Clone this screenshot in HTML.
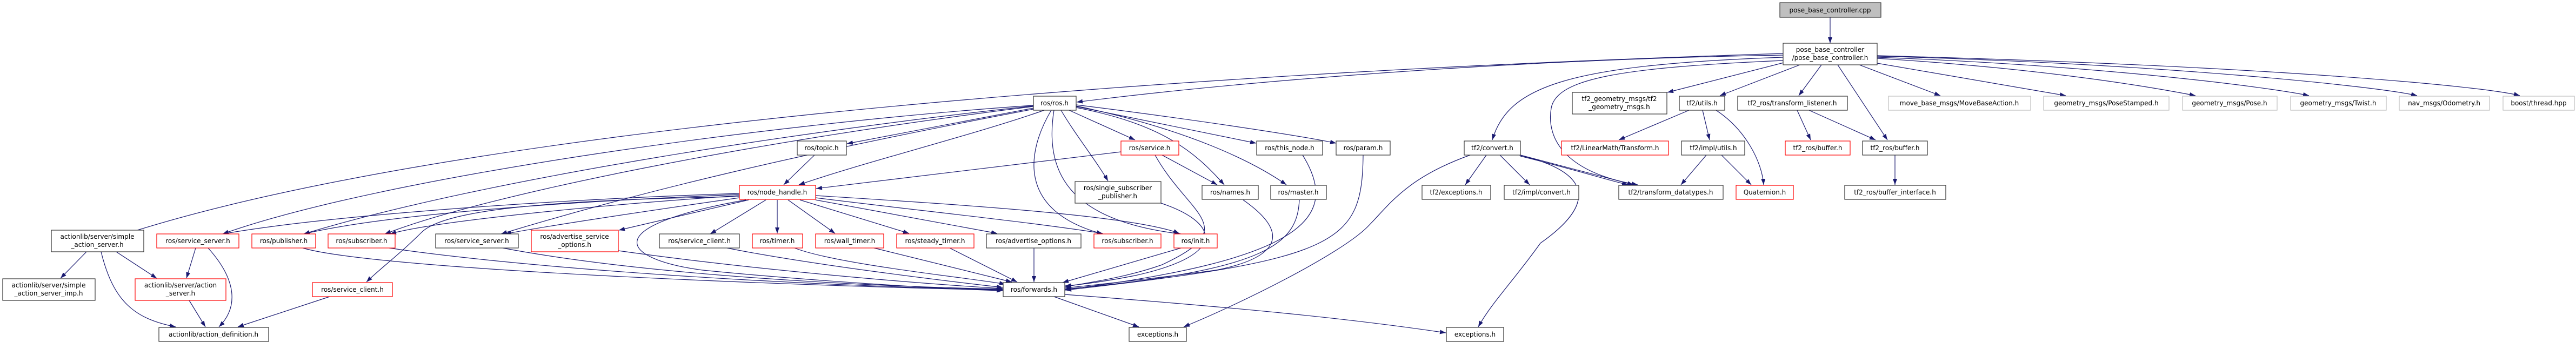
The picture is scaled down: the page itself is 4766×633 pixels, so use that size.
<!DOCTYPE html>
<html><head><meta charset="utf-8"><style>
html,body{margin:0;padding:0;background:#fff;}
svg{display:block;}
text{font-family:"DejaVu Sans","Liberation Sans",sans-serif;font-size:12px;fill:#000;text-anchor:middle;}
.b{fill:#fff;stroke:#333;stroke-width:1.2;}
.r{fill:#fff;stroke:#ff0000;stroke-width:1.2;}
.g{fill:#fff;stroke:#bfbfbf;stroke-width:1.2;}
.e path{fill:none;stroke:#191970;stroke-width:1.2;}
</style></head><body>
<svg width="4766" height="633" viewBox="0 0 4766 633" xmlns="http://www.w3.org/2000/svg">
<defs><marker id="a" markerUnits="userSpaceOnUse" markerWidth="12" markerHeight="10" refX="11" refY="4" orient="auto"><path d="M0,0 L11,4 L0,8 Z" fill="#191970"/></marker></defs>
<g class="e" marker-end="url(#a)">
<path marker-end="url(#a)" d="M3386,32 L3386,80"/>
<path marker-end="url(#a)" d="M3299,102 C2800,110 2300,150 1992,189"/>
<path marker-end="url(#a)" d="M3299,99 C2000,140 800,250 232,433"/>
<path marker-end="url(#a)" d="M3299,106 C2900,120 2790,160 2761,259"/>
<path marker-end="url(#a)" d="M3299,112 C3000,125 2880,145 2870,200 C2860,260 2900,320 3030,342"/>
<path marker-end="url(#a)" d="M3300,116 L3085,171"/>
<path marker-end="url(#a)" d="M3330,120 L3182,177"/>
<path marker-end="url(#a)" d="M3370,120 L3328,177"/>
<path marker-end="url(#a)" d="M3400,120 L3492,259"/>
<path marker-end="url(#a)" d="M3440,120 L3590,177"/>
<path marker-end="url(#a)" d="M3473,117 L3822,177"/>
<path marker-end="url(#a)" d="M3473,108 C3800,128 4000,165 4062,177"/>
<path marker-end="url(#a)" d="M3473,106 C3900,122 4200,162 4272,177"/>
<path marker-end="url(#a)" d="M3473,104 C4000,118 4400,160 4472,177"/>
<path marker-end="url(#a)" d="M3473,103 C4200,122 4600,160 4662,177"/>
<path marker-end="url(#a)" d="M1912,195 C1400,230 700,330 412,433"/>
<path marker-end="url(#a)" d="M1912,196 C1500,240 900,330 562,433"/>
<path marker-end="url(#a)" d="M1912,197 C1400,260 900,360 712,433"/>
<path marker-end="url(#a)" d="M1912,202 C1500,280 1200,350 927,433"/>
<path marker-end="url(#a)" d="M1932,204 C1800,250 1600,300 1478,342"/>
<path marker-end="url(#a)" d="M1912,200 L1567,266"/>
<path marker-end="url(#a)" d="M1978,204 L2100,259"/>
<path marker-end="url(#a)" d="M1963,204 C1990,250 2030,300 2050,335"/>
<path marker-end="url(#a)" d="M1991,199 C2150,230 2210,280 2265,342"/>
<path marker-end="url(#a)" d="M1991,197 L2324,265"/>
<path marker-end="url(#a)" d="M1991,196 C2200,240 2320,300 2380,342"/>
<path marker-end="url(#a)" d="M1991,194 C2200,220 2400,250 2472,265"/>
<path marker-end="url(#a)" d="M1945,204 C1900,280 1880,390 2040,433"/>
<path marker-end="url(#a)" d="M1950,204 C1930,330 1990,410 2185,433"/>
<path marker-end="url(#a)" d="M1507,287 L1450,342"/>
<path marker-end="url(#a)" d="M2074,281 L1510,349"/>
<path marker-end="url(#a)" d="M2150,287 L2252,342"/>
<path marker-end="url(#a)" d="M2137,287 C2200,400 2300,420 2150,490 C2080,515 2000,525 1971,531"/>
<path marker-end="url(#a)" d="M1368,366 C1200,390 1000,420 935,433"/>
<path marker-end="url(#a)" d="M1385,370 L1145,426"/>
<path marker-end="url(#a)" d="M1417,370 L1314,433"/>
<path marker-end="url(#a)" d="M1438,370 L1438,432"/>
<path marker-end="url(#a)" d="M1458,370 L1545,432"/>
<path marker-end="url(#a)" d="M1480,370 L1682,432"/>
<path marker-end="url(#a)" d="M1509,370 L1845,432"/>
<path marker-end="url(#a)" d="M1509,366 C1700,390 1900,410 2040,432"/>
<path marker-end="url(#a)" d="M1509,362 C1800,380 2100,400 2182,432"/>
<path marker-end="url(#a)" d="M1368,358 C1000,370 600,400 412,433"/>
<path marker-end="url(#a)" d="M1368,360 C1000,375 700,400 562,433"/>
<path marker-end="url(#a)" d="M1368,362 C1100,380 800,410 722,433"/>
<path marker-end="url(#a)" d="M1368,364 C1000,370 820,390 780,430 C740,470 700,500 678,522"/>
<path marker-end="url(#a)" d="M1380,370 C1100,420 1150,480 1300,500 C1500,520 1750,535 1855,538"/>
<path marker-end="url(#a)" d="M560,459 C700,500 1500,530 1855,537"/>
<path marker-end="url(#a)" d="M720,459 C1000,500 1500,530 1855,536"/>
<path marker-end="url(#a)" d="M930,459 C1200,510 1600,530 1855,535"/>
<path marker-end="url(#a)" d="M1144,464 C1400,500 1700,525 1855,534"/>
<path marker-end="url(#a)" d="M1345,459 C1500,490 1750,520 1855,532"/>
<path marker-end="url(#a)" d="M1470,459 C1550,490 1800,515 1860,526"/>
<path marker-end="url(#a)" d="M1617,459 L1872,522"/>
<path marker-end="url(#a)" d="M1757,459 L1882,522"/>
<path marker-end="url(#a)" d="M1913,459 L1913,522"/>
<path marker-end="url(#a)" d="M2185,459 L1966,523"/>
<path marker-end="url(#a)" d="M2148,376 C2250,410 2280,470 2100,510 C2050,520 2000,527 1971,529"/>
<path marker-end="url(#a)" d="M2300,370 C2400,440 2350,480 2250,500 C2100,520 2000,530 1971,533"/>
<path marker-end="url(#a)" d="M2404,370 C2400,450 2350,500 1971,535"/>
<path marker-end="url(#a)" d="M2410,287 C2480,400 2420,480 1971,536"/>
<path marker-end="url(#a)" d="M2522,287 C2520,450 2480,480 1971,537"/>
<path marker-end="url(#a)" d="M1950,549 L2107,605"/>
<path marker-end="url(#a)" d="M1970,545 C2300,570 2500,590 2675,616"/>
<path marker-end="url(#a)" d="M2750,287 L2711,342"/>
<path marker-end="url(#a)" d="M2775,287 L2830,342"/>
<path marker-end="url(#a)" d="M2813,287 L3022,342"/>
<path marker-end="url(#a)" d="M2813,289 C2900,310 2980,335 3012,342"/>
<path marker-end="url(#a)" d="M2811,287 C2950,320 2950,380 2850,450 C2800,520 2760,560 2735,605"/>
<path marker-end="url(#a)" d="M2720,287 C2600,330 2570,380 2530,420 C2480,470 2300,560 2190,605"/>
<path marker-end="url(#a)" d="M3125,204 L2995,259"/>
<path marker-end="url(#a)" d="M3150,204 L3163,259"/>
<path marker-end="url(#a)" d="M3175,204 C3230,240 3260,300 3263,342"/>
<path marker-end="url(#a)" d="M3157,287 L3110,342"/>
<path marker-end="url(#a)" d="M3185,287 L3240,342"/>
<path marker-end="url(#a)" d="M3325,204 L3350,259"/>
<path marker-end="url(#a)" d="M3347,204 L3470,259"/>
<path marker-end="url(#a)" d="M3506,287 L3506,342"/>
<path marker-end="url(#a)" d="M160,466 L112,515"/>
<path marker-end="url(#a)" d="M215,466 L290,515"/>
<path marker-end="url(#a)" d="M187,466 C210,560 250,590 325,605"/>
<path marker-end="url(#a)" d="M362,459 L345,515"/>
<path marker-end="url(#a)" d="M385,459 C440,520 440,570 405,605"/>
<path marker-end="url(#a)" d="M350,556 L380,605"/>
<path marker-end="url(#a)" d="M610,549 L440,605"/>
</g>
<rect x="3293" y="5" width="187" height="27" fill="#bfbfbf" stroke="#333" stroke-width="1.2"/><text x="3386" y="23">pose_base_controller.cpp</text>
<rect class="b" x="3299" y="80" width="174" height="40"/><text x="3386" y="96">pose_base_controller</text><text x="3386" y="111">/pose_base_controller.h</text>
<rect class="b" x="1912" y="178" width="79" height="26"/><text x="1951" y="195">ros/ros.h</text>
<rect class="b" x="3215" y="178" width="203" height="26"/><text x="3316" y="195">tf2_ros/transform_listener.h</text>
<rect class="g" x="3494" y="178" width="263" height="26"/><text x="3625" y="195">move_base_msgs/MoveBaseAction.h</text>
<rect class="g" x="3781" y="178" width="232" height="26"/><text x="3897" y="195">geometry_msgs/PoseStamped.h</text>
<rect class="g" x="4038" y="178" width="175" height="26"/><text x="4125" y="195">geometry_msgs/Pose.h</text>
<rect class="g" x="4238" y="178" width="177" height="26"/><text x="4326" y="195">geometry_msgs/Twist.h</text>
<rect class="g" x="4439" y="178" width="167" height="26"/><text x="4522" y="195">nav_msgs/Odometry.h</text>
<rect class="g" x="4631" y="178" width="132" height="26"/><text x="4697" y="195">boost/thread.hpp</text>
<rect class="b" x="2909" y="171" width="175" height="40"/><text x="2996" y="187">tf2_geometry_msgs/tf2</text><text x="2996" y="202">_geometry_msgs.h</text>
<rect class="b" x="3107" y="178" width="84" height="26"/><text x="3149" y="195">tf2/utils.h</text>
<rect class="b" x="1475" y="261" width="91" height="26"/><text x="1520" y="278">ros/topic.h</text>
<rect class="r" x="2074" y="261" width="107" height="26"/><text x="2127" y="278">ros/service.h</text>
<rect class="b" x="2325" y="261" width="122" height="26"/><text x="2386" y="278">ros/this_node.h</text>
<rect class="b" x="2472" y="261" width="100" height="26"/><text x="2522" y="278">ros/param.h</text>
<rect class="b" x="2709" y="261" width="104" height="26"/><text x="2761" y="278">tf2/convert.h</text>
<rect class="r" x="2889" y="261" width="198" height="26"/><text x="2988" y="278">tf2/LinearMath/Transform.h</text>
<rect class="b" x="3111" y="261" width="117" height="26"/><text x="3170" y="278">tf2/impl/utils.h</text>
<rect class="r" x="3303" y="261" width="120" height="26"/><text x="3363" y="278">tf2_ros/buffer.h</text>
<rect class="b" x="3446" y="261" width="120" height="26"/><text x="3506" y="278">tf2_ros/buffer.h</text>
<rect class="r" x="1368" y="343" width="141" height="26"/><text x="1438" y="360">ros/node_handle.h</text>
<rect class="b" x="1989" y="336" width="159" height="40"/><text x="2068" y="352">ros/single_subscriber</text><text x="2068" y="367">_publisher.h</text>
<rect class="b" x="2224" y="343" width="104" height="26"/><text x="2276" y="360">ros/names.h</text>
<rect class="b" x="2351" y="343" width="103" height="26"/><text x="2402" y="360">ros/master.h</text>
<rect class="b" x="2631" y="343" width="127" height="26"/><text x="2694" y="360">tf2/exceptions.h</text>
<rect class="b" x="2783" y="343" width="138" height="26"/><text x="2852" y="360">tf2/impl/convert.h</text>
<rect class="b" x="2995" y="343" width="193" height="26"/><text x="3091" y="360">tf2/transform_datatypes.h</text>
<rect class="r" x="3212" y="343" width="106" height="26"/><text x="3265" y="360">Quaternion.h</text>
<rect class="b" x="3413" y="343" width="187" height="26"/><text x="3506" y="360">tf2_ros/buffer_interface.h</text>
<rect class="b" x="95" y="426" width="171" height="40"/><text x="180" y="442">actionlib/server/simple</text><text x="180" y="457">_action_server.h</text>
<rect class="r" x="290" y="433" width="152" height="26"/><text x="366" y="450">ros/service_server.h</text>
<rect class="r" x="466" y="433" width="118" height="26"/><text x="525" y="450">ros/publisher.h</text>
<rect class="r" x="607" y="433" width="124" height="26"/><text x="669" y="450">ros/subscriber.h</text>
<rect class="b" x="806" y="433" width="153" height="26"/><text x="882" y="450">ros/service_server.h</text>
<rect class="r" x="983" y="426" width="161" height="40"/><text x="1063" y="442">ros/advertise_service</text><text x="1063" y="457">_options.h</text>
<rect class="b" x="1220" y="433" width="148" height="26"/><text x="1294" y="450">ros/service_client.h</text>
<rect class="r" x="1392" y="433" width="93" height="26"/><text x="1438" y="450">ros/timer.h</text>
<rect class="r" x="1509" y="433" width="126" height="26"/><text x="1572" y="450">ros/wall_timer.h</text>
<rect class="r" x="1659" y="433" width="143" height="26"/><text x="1730" y="450">ros/steady_timer.h</text>
<rect class="b" x="1825" y="433" width="175" height="26"/><text x="1912" y="450">ros/advertise_options.h</text>
<rect class="r" x="2024" y="433" width="124" height="26"/><text x="2086" y="450">ros/subscriber.h</text>
<rect class="r" x="2172" y="433" width="80" height="26"/><text x="2212" y="450">ros/init.h</text>
<rect class="b" x="5" y="516" width="171" height="40"/><text x="90" y="532">actionlib/server/simple</text><text x="90" y="547">_action_server_imp.h</text>
<rect class="r" x="250" y="516" width="168" height="40"/><text x="334" y="532">actionlib/server/action</text><text x="334" y="547">_server.h</text>
<rect class="r" x="578" y="523" width="148" height="26"/><text x="652" y="540">ros/service_client.h</text>
<rect class="b" x="1856" y="523" width="114" height="26"/><text x="1913" y="540">ros/forwards.h</text>
<rect class="b" x="294" y="606" width="203" height="26"/><text x="395" y="623">actionlib/action_definition.h</text>
<rect class="b" x="2089" y="606" width="106" height="26"/><text x="2142" y="623">exceptions.h</text>
<rect class="b" x="2676" y="606" width="106" height="26"/><text x="2729" y="623">exceptions.h</text>
</svg>
</body></html>
